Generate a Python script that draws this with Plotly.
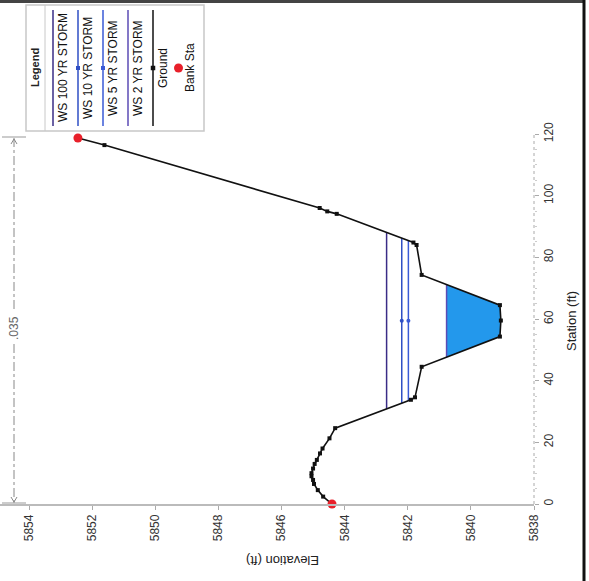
import plotly.graph_objects as go

# ---------------- data ----------------
ground_station = [0.0, 2.4, 4.5, 6.5, 7.8, 9.0, 10.0, 11.5, 13.0, 14.3, 16.4, 18.0, 21.3, 24.6,
                  33.8, 34.6, 44.5, 54.3, 59.5, 64.5, 74.3, 84.0, 84.8, 94.1, 94.9, 96.0, 116.4, 118.7]
ground_elev = [5844.40, 5844.68, 5844.85, 5844.97, 5845.00, 5845.05, 5845.05, 5845.00, 5844.95, 5844.88,
               5844.78, 5844.70, 5844.48, 5844.30, 5841.90, 5841.77, 5841.56, 5839.08, 5839.05, 5839.08,
               5841.56, 5841.72, 5841.82, 5844.25, 5844.55, 5844.79, 5851.61, 5852.45]

bank_station = [0.0, 118.7]
bank_elev = [5844.40, 5852.45]

ws_names = ["WS 100 YR STORM", "WS 10 YR STORM", "WS 5 YR STORM", "WS 2 YR STORM"]
ws_elev = [5842.67, 5842.19, 5841.98, 5840.77]
ws_colors = ["#3a2c86", "#2f4fc4", "#3a5ad6", "#5b4bb5"]
ws_markers = [False, True, True, False]

elev_ticks = [5838, 5840, 5842, 5844, 5846, 5848, 5850, 5852, 5854]
station_ticks = [0, 20, 40, 60, 80, 100, 120]
n_value_label = ".035"

FONT = "Arial, Liberation Sans, sans-serif"

# plot area geometry in pixels
W, H = 589, 581
L, R, T, B = 0, 55, 134, 77
PW, PH = W - L - R, H - T - B


def px(x):
    return (x - L) / PW


def py(y):
    return (H - B - y) / PH


def crossings(level):
    """first downward and last upward crossing of the ground by a water level"""
    left = right = None
    for i in range(len(ground_station) - 1):
        e0, e1 = ground_elev[i], ground_elev[i + 1]
        s0, s1 = ground_station[i], ground_station[i + 1]
        if left is None and e0 >= level > e1:
            left = (i, s0 + (e0 - level) / (e0 - e1) * (s1 - s0))
        if e0 < level <= e1:
            right = (i, s0 + (level - e0) / (e1 - e0) * (s1 - s0))
    return left, right


fig = go.Figure()

# water fill for the lowest profile
(li, ls), (ri, rs) = crossings(ws_elev[3])
fill_s = [ls] + ground_station[li + 1:ri + 1] + [rs, ls]
fill_e = [ws_elev[3]] + ground_elev[li + 1:ri + 1] + [ws_elev[3], ws_elev[3]]
fig.add_trace(go.Scatter(x=fill_e, y=fill_s, mode="lines", fill="toself",
                         fillcolor="#2398ec", line=dict(width=0), hoverinfo="skip",
                         showlegend=False))

# water surface lines
for name, lev, col, mk in zip(ws_names, ws_elev, ws_colors, ws_markers):
    (li, ls), (ri, rs) = crossings(lev)
    fig.add_trace(go.Scatter(x=[lev, lev], y=[ls, rs], mode="lines", name=name,
                             line=dict(color=col, width=1.5), showlegend=False))
    if mk:
        fig.add_trace(go.Scatter(x=[lev], y=[(ls + rs) / 2], mode="markers",
                                 marker=dict(color=col, size=4), showlegend=False))

# ground
fig.add_trace(go.Scatter(x=ground_elev, y=ground_station, mode="lines+markers", name="Ground",
                         line=dict(color="#111111", width=1.6),
                         marker=dict(symbol="square", size=4, color="#111111"),
                         showlegend=False, cliponaxis=False))
# bank stations
fig.add_trace(go.Scatter(x=bank_elev, y=bank_station, mode="markers", name="Bank Sta",
                         marker=dict(color="#e8202a", size=9), showlegend=False,
                         cliponaxis=False))

shapes = []
annotations = []

# station axis dotted line
shapes.append(dict(type="line", xref="paper", yref="paper", x0=1, x1=1, y0=0, y1=1,
                   line=dict(color="#aaaaaa", width=1, dash="dot")))

# n-value marker
nx = px(14)
for y0, y1 in [(138, 312), (344, 503)]:
    shapes.append(dict(type="line", xref="paper", yref="paper", x0=nx, x1=nx,
                       y0=py(y0), y1=py(y1), line=dict(color="#888888", width=1, dash="dashdot")))
for yy in (137, 503):
    shapes.append(dict(type="line", xref="paper", yref="paper", x0=px(2), x1=px(26),
                       y0=py(yy), y1=py(yy), line=dict(color="#999999", width=1)))
shapes.append(dict(type="path", xref="paper", yref="paper",
                   path=f"M {px(11)} {py(144)} L {nx} {py(139)} L {px(17)} {py(144)}",
                   line=dict(color="#888888", width=1)))
shapes.append(dict(type="path", xref="paper", yref="paper",
                   path=f"M {px(11)} {py(497)} L {nx} {py(502)} L {px(17)} {py(497)}",
                   line=dict(color="#888888", width=1)))
annotations.append(dict(text=n_value_label, x=nx, y=py(328), xref="paper", yref="paper",
                        showarrow=False, textangle=-90, font=dict(family=FONT, size=12, color="#666666"),
                        xanchor="center", yanchor="middle"))

# page borders
shapes.append(dict(type="line", xref="paper", yref="paper", x0=px(0), x1=px(584),
                   y0=py(1.5), y1=py(1.5), line=dict(color="#444444", width=3)))
shapes.append(dict(type="line", xref="paper", yref="paper", x0=px(584), x1=px(584),
                   y0=py(0), y1=py(581), line=dict(color="#111111", width=3)))

# legend (drawn rotated like the rest of the page)
shapes.append(dict(type="rect", xref="paper", yref="paper", x0=px(26), x1=px(204),
                   y0=py(131), y1=py(5), line=dict(color="#c8c8c8", width=1.5),
                   fillcolor="white", layer="above"))
shapes.append(dict(type="line", xref="paper", yref="paper", x0=px(45), x1=px(45),
                   y0=py(131), y1=py(5), line=dict(color="#c8c8c8", width=1)))
annotations.append(dict(text="<b>Legend</b>", x=px(35), y=py(68), xref="paper", yref="paper",
                        showarrow=False, textangle=-90, font=dict(family=FONT, size=11, color="#222"),
                        xanchor="center", yanchor="middle"))
leg_names = ws_names + ["Ground"]
leg_colors = ws_colors + ["#111111"]
leg_marks = ws_markers + [True]
for k, (nm, col, mk) in enumerate(zip(leg_names, leg_colors, leg_marks)):
    lx = 53 + 25 * k
    shapes.append(dict(type="line", xref="paper", yref="paper", x0=px(lx), x1=px(lx),
                       y0=py(126), y1=py(10), line=dict(color=col, width=1.5)))
    if mk:
        sz = 3 if k < 4 else 3.5
        shapes.append(dict(type="rect", xref="paper", yref="paper", x0=px(lx - sz / 2 - 0.5),
                           x1=px(lx + sz / 2 + 0.5), y0=py(68 + sz / 2 + 0.5), y1=py(68 - sz / 2 - 0.5),
                           line=dict(width=0), fillcolor=col))
    annotations.append(dict(text=nm, x=px(lx + 10), y=py(68), xref="paper", yref="paper",
                            showarrow=False, textangle=-90,
                            font=dict(family=FONT, size=12, color="#111"),
                            xanchor="center", yanchor="middle"))
shapes.append(dict(type="circle", xref="paper", yref="paper", x0=px(174), x1=px(183),
                   y0=py(72.5), y1=py(63.5), line=dict(width=0), fillcolor="#e8202a"))
annotations.append(dict(text="Bank Sta", x=px(190), y=py(68), xref="paper", yref="paper",
                        showarrow=False, textangle=-90, font=dict(family=FONT, size=12, color="#111"),
                        xanchor="center", yanchor="middle"))

# axis titles
annotations.append(dict(text="Elevation (ft)", x=px(283), y=py(561), xref="paper", yref="paper",
                        showarrow=False, textangle=180, font=dict(family=FONT, size=13, color="#222"),
                        xanchor="center", yanchor="middle"))
annotations.append(dict(text="Station (ft)", x=px(571), y=py(321), xref="paper", yref="paper",
                        showarrow=False, textangle=-90, font=dict(family=FONT, size=13, color="#222"),
                        xanchor="center", yanchor="middle"))

x_left = 5854 + 29 / 31.56
fig.update_layout(
    width=W, height=H,
    margin=dict(l=L, r=R, t=T, b=B, pad=0),
    paper_bgcolor="white", plot_bgcolor="white",
    showlegend=False,
    font=dict(family=FONT, size=12, color="#333"),
    shapes=shapes, annotations=annotations,
    xaxis=dict(range=[x_left, 5838], tickvals=elev_ticks, ticktext=[str(v) for v in elev_ticks],
               tickangle=-90, showgrid=False, zeroline=False, showline=True,
               linecolor="#bbbbbb", linewidth=1.5, ticks="outside", ticklen=4,
               tickcolor="#aaaaaa", tickfont=dict(family=FONT, size=12, color="#333")),
    yaxis=dict(range=[0, 120], side="right", tickvals=station_ticks,
               ticktext=[str(v) for v in station_ticks], tickangle=-90,
               showgrid=False, zeroline=False, showline=False, ticks="outside", ticklen=4,
               tickcolor="#aaaaaa", tickfont=dict(family=FONT, size=12, color="#333"),
               minor=dict(dtick=5, ticks="outside", ticklen=2, tickcolor="#cccccc")),
)

fig.write_html("out.html", config={"displayModeBar": False},
               post_script="document.body.style.margin='0';document.body.style.overflow='hidden';")
